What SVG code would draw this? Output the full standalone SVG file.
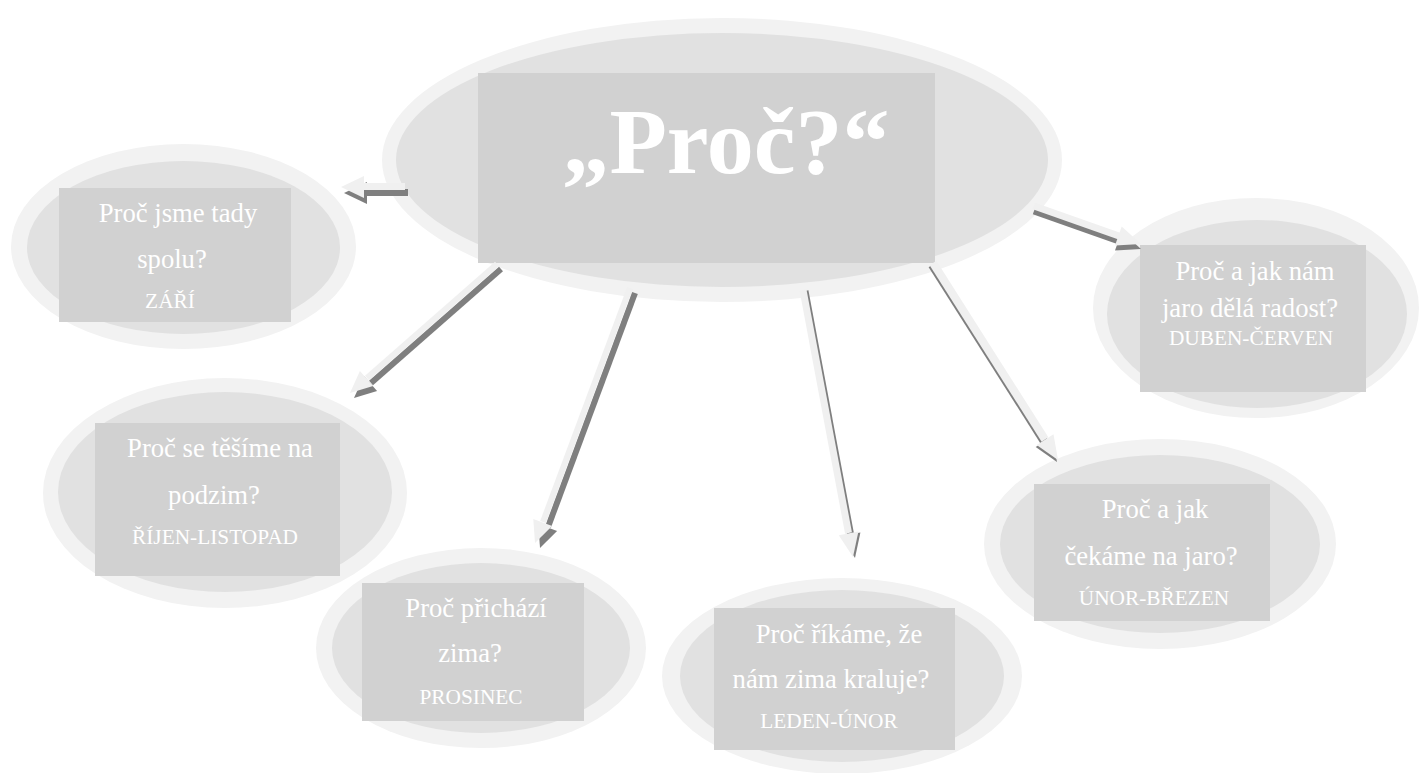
<svg xmlns="http://www.w3.org/2000/svg" width="1421" height="773" viewBox="0 0 1421 773">
<style>
.outer{fill:#f2f2f2}
.inner{fill:#e1e1e1}
.box{fill:#d1d1d1}
.q{font-family:"Liberation Serif","Times New Roman",serif;font-size:26.67px;fill:#ffffff;text-anchor:middle}
.m{font-family:"Liberation Serif","Times New Roman",serif;font-size:21.33px;fill:#ffffff;text-anchor:middle}
.title{font-family:"Liberation Serif","Times New Roman",serif;font-size:94px;font-weight:bold;fill:#ffffff;text-anchor:middle}
.ls{stroke:#f0f0f0;fill:none;stroke-linecap:butt}
.lh{fill:#f0f0f0}
.ds{stroke:#7f7f7f;fill:none;stroke-linecap:butt}
.dh{fill:#7f7f7f}
</style>
<rect width="1421" height="773" fill="#ffffff"/>

<g id="node-center">
<ellipse class="outer" cx="722" cy="160" rx="340" ry="142"/>
<ellipse class="inner" cx="722" cy="160" rx="326" ry="127"/>
<rect class="box" x="478" y="73" width="457" height="190"/>
<text class="title" x="726" y="173">„Proč?“</text>
</g>

<g id="node-zari">
<ellipse class="outer" cx="183.5" cy="246.5" rx="172.5" ry="102.5"/>
<ellipse class="inner" cx="183.5" cy="247.5" rx="156.5" ry="86.5"/>
<rect class="box" x="59" y="188" width="232" height="134"/>
<text class="q" x="178" y="222">Proč jsme tady</text>
<text class="q" x="172" y="268">spolu?</text>
<text class="m" x="170" y="308">ZÁŘÍ</text>
</g>

<g id="node-prosinec">
<ellipse class="outer" cx="481" cy="648" rx="165" ry="100"/>
<ellipse class="inner" cx="481" cy="648" rx="149" ry="85"/>
<rect class="box" x="362" y="583" width="222" height="138"/>
<text class="q" x="476" y="617">Proč přichází</text>
<text class="q" x="470" y="662">zima?</text>
<text class="m" x="471" y="704">PROSINEC</text>
</g>

<g id="node-rijen">
<ellipse class="outer" cx="225" cy="493" rx="182" ry="115"/>
<ellipse class="inner" cx="225" cy="492" rx="167" ry="100"/>
<rect class="box" x="95" y="423" width="245" height="153"/>
<text class="q" x="220" y="457">Proč se těšíme na</text>
<text class="q" x="214" y="504">podzim?</text>
<text class="m" x="215" y="544">ŘÍJEN-LISTOPAD</text>
</g>

<g id="node-unor">
<ellipse class="outer" cx="1160" cy="544" rx="176" ry="105"/>
<ellipse class="inner" cx="1160" cy="544" rx="160" ry="89"/>
<rect class="box" x="1034" y="484" width="236" height="137"/>
<text class="q" x="1155" y="518">Proč a jak</text>
<text class="q" x="1151" y="565">čekáme na jaro?</text>
<text class="m" x="1154" y="605">ÚNOR-BŘEZEN</text>
</g>

<g id="node-leden">
<ellipse class="outer" cx="842" cy="676" rx="180" ry="98"/>
<ellipse class="inner" cx="842" cy="676" rx="162" ry="86"/>
<rect class="box" x="714" y="608" width="241" height="142"/>
<text class="q" x="839" y="643">Proč říkáme, že</text>
<text class="q" x="831" y="688">nám zima kraluje?</text>
<text class="m" x="829" y="728">LEDEN-ÚNOR</text>
</g>

<g id="node-duben">
<ellipse class="outer" cx="1256" cy="308" rx="163" ry="110"/>
<ellipse class="inner" cx="1257" cy="314" rx="150" ry="94"/>
<rect class="box" x="1140" y="245" width="226" height="147"/>
<text class="q" x="1255" y="280">Proč a jak nám</text>
<text class="q" x="1250" y="317">jaro dělá radost?</text>
<text class="m" x="1251" y="345">DUBEN-ČERVEN</text>
</g>

<g id="connectors">
<!-- to ZÁŘÍ -->
<g transform="translate(3,6)">
<line class="ds" x1="362" y1="186.5" x2="405" y2="186.5" stroke-width="7"/>
<polygon class="dh" points="341,187 364,176 364,198"/>
</g>
<line class="ls" x1="362" y1="186.5" x2="405" y2="186.5" stroke-width="7"/>
<polygon class="lh" points="341,187 364,176 364,198"/>

<!-- to ŘÍJEN -->
<g transform="translate(4,5)">
<line class="ds" x1="497" y1="264" x2="367" y2="378" stroke-width="6"/>
<polygon class="dh" points="350,393 373.1,386 359.9,371"/>
</g>
<line class="ls" x1="497" y1="264" x2="367" y2="378" stroke-width="6"/>
<polygon class="lh" points="350,393 373.1,386 359.9,371"/>

<!-- to PROSINEC -->
<g transform="translate(5,5)">
<line class="ds" x1="630" y1="288" x2="543" y2="522" stroke-width="6"/>
<polygon class="dh" points="535,543 552.1,525.9 533.3,518.9"/>
</g>
<line class="ls" x1="630" y1="288" x2="543" y2="522" stroke-width="6"/>
<polygon class="lh" points="535,543 552.1,525.9 533.3,518.9"/>

<!-- to LEDEN -->
<g transform="translate(2,1)">
<line class="ds" x1="803" y1="290" x2="848.5" y2="533" stroke-width="7"/>
<polygon class="dh" points="853,557 858.4,531.6 838.8,535.2"/>
</g>
<line class="ls" x1="803" y1="290" x2="848.5" y2="533" stroke-width="7"/>
<polygon class="lh" points="853,557 858.4,531.6 838.8,535.2"/>

<!-- to ÚNOR -->
<g transform="translate(-1,2)">
<line class="ds" x1="933" y1="263" x2="1045" y2="439.5" stroke-width="8"/>
<polygon class="dh" points="1058,460 1053.5,434.3 1036.7,445.1"/>
</g>
<line class="ls" x1="933" y1="263" x2="1045" y2="439.5" stroke-width="8"/>
<polygon class="lh" points="1058,460 1053.5,434.3 1036.7,445.1"/>

<!-- to DUBEN -->
<g transform="translate(0,5)">
<line class="ds" x1="1034" y1="206" x2="1119" y2="236" stroke-width="7"/>
<polygon class="dh" points="1141,244 1115,245.4 1121.7,226.6"/>
</g>
<line class="ls" x1="1034" y1="206" x2="1119" y2="236" stroke-width="7"/>
<polygon class="lh" points="1141,244 1115,245.4 1121.7,226.6"/>
</g>
</svg>
